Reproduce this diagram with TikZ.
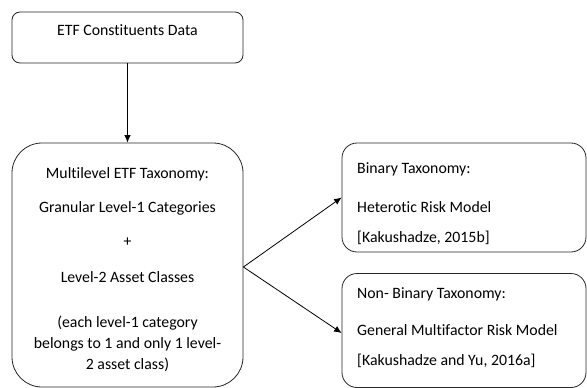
\documentclass[tikz,border=0pt]{standalone}
\usepackage{fontspec}
\setmainfont{Carlito}[Ligatures=NoCommon]
\usetikzlibrary{arrows.meta}
\begin{document}
\begin{tikzpicture}[x=1pt,y=-1pt,
  box/.style={draw=black!85,line width=0.8pt,inner sep=0pt,anchor=center},
  txt/.style={inner sep=0pt,font=\fontsize{15.8}{18}\selectfont,anchor=base},
  ltxt/.style={inner sep=0pt,font=\fontsize{15.8}{18}\selectfont,anchor=base west},
  conn/.style={line width=0.8pt,-{Latex[length=7.5pt,width=6.5pt]}}]
\useasboundingbox (0,0) rectangle (587,388);
\node[box,rounded corners=8pt,minimum width=231pt,minimum height=51pt] (top) at (127.5,37.5) {};
\node[box,rounded corners=30pt,minimum width=231pt,minimum height=244pt] (big) at (127.5,265) {};
\node[box,rounded corners=15pt,minimum width=244pt,minimum height=109pt] (rt) at (464,197.5) {};
\node[box,rounded corners=15pt,minimum width=244pt,minimum height=114pt] (rb) at (464,330.5) {};

\node[txt] (t1) at (127.5,35) {ETF Constituents Data};

\node[txt] (b1) at (127.5,178) {Multilevel ETF Taxonomy:};
\node[txt] (b2) at (127.5,212) {Granular Level-1 Categories};
\node[txt] (b3) at (127.5,246) {+};
\node[txt] (b4) at (127.5,282) {Level-2 Asset Classes};
\node[txt] (b5) at (127.5,327) {(each level-1 category};
\node[txt] (b6) at (127.5,348) {belongs to 1 and only 1 level-};
\node[txt] (b7) at (127.5,369) {2 asset class)};

\node[ltxt] (r1) at (357,173) {Binary Taxonomy:};
\node[ltxt] (r2) at (357,212) {Heterotic Risk Model};
\node[ltxt] (r3) at (357,242) {[Kakushadze, 2015b]};

\node[ltxt] (s1) at (357,298) {Non- Binary Taxonomy:};
\node[ltxt] (s2) at (357,335) {General Multifactor Risk Model};
\node[ltxt] (s3) at (357,365) {[Kakushadze and Yu, 2016a]};

\coordinate (br) at ([yshift=-2pt]big.east);
\draw[conn] (top.south) -- (big.north);
\draw[conn] (br) -- ([yshift=0pt]rt.west);
\draw[conn] (br) -- ([yshift=-2.5pt]rb.west);
\end{tikzpicture}
\end{document}
